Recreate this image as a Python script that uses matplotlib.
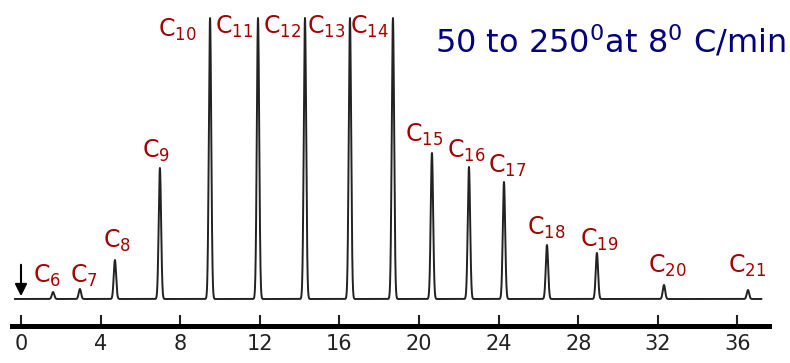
import numpy as np
import matplotlib
matplotlib.use("Agg")
import matplotlib.pyplot as plt

# n-alkane peaks (retention time in min, response)
carbons = [6, 7, 8, 9, 10, 11, 12, 13, 14, 15, 16, 17, 18, 19, 20, 21]
ret_time = [1.61, 2.96, 4.72, 6.98, 9.50, 11.91, 14.27, 16.53, 18.69,
            20.65, 22.51, 24.27, 26.43, 28.94, 32.31, 36.53]
response = [7, 10, 39, 131, 281, 281, 281, 281, 281,
            146, 132, 117, 54, 46, 14, 9]
x_ticks = [0, 4, 8, 12, 16, 20, 24, 28, 32, 36]
title = r"50 to 250$^0$at 8$^0$ C/min"

# where each peak label sits (left edge, baseline of the "C")
label_pos = [(0.60, 16), (2.46, 16), (4.12, 51), (6.08, 141),
             (6.88, 262), (9.75, 265), (12.16, 265), (14.37, 265), (16.53, 265),
             (19.30, 157), (21.41, 141), (23.47, 126), (25.43, 64),
             (28.09, 52), (31.51, 26), (35.53, 26)]

# build the detector trace from the peak table
t = np.linspace(-0.3, 37.2, 12000)
trace = np.zeros_like(t)
for rt, h in zip(ret_time, response):
    trace += h * np.exp(-0.5 * ((t - rt) / 0.06) ** 2)

fig = plt.figure(figsize=(7.9, 3.63), dpi=100)
ax = fig.add_axes([0, 0, 1, 1])
ax.set_xlim(-21 / 19.9, (790 - 21) / 19.9)
ax.set_ylim(-64, 299)

ax.plot(t, trace, color="#222222", lw=1.4)

# injection marker
ax.annotate("", xy=(0, 0), xytext=(0, 37),
            arrowprops=dict(arrowstyle="-|>", color="black", lw=1.5,
                            mutation_scale=18))

for c, (lx, ly) in zip(carbons, label_pos):
    ax.text(lx, ly, "C$_{%d}$" % c, color="#a50000", fontsize=17,
            ha="left", va="baseline")

fig.text(435 / 790, 1 - 52 / 363, title, color="#000080", fontsize=23,
         ha="left", va="baseline")

for s in ["top", "left", "right"]:
    ax.spines[s].set_visible(False)
ax.spines["bottom"].set_position(("data", -27))
ax.spines["bottom"].set_bounds(-0.45, 37.6)
ax.spines["bottom"].set_linewidth(3.6)
ax.set_yticks([])
ax.set_xticks(x_ticks)
ax.tick_params(axis="x", direction="in", length=8, width=1.5, pad=6,
               labelsize=15, colors="#222222")

fig.savefig("out.png", dpi=100)
